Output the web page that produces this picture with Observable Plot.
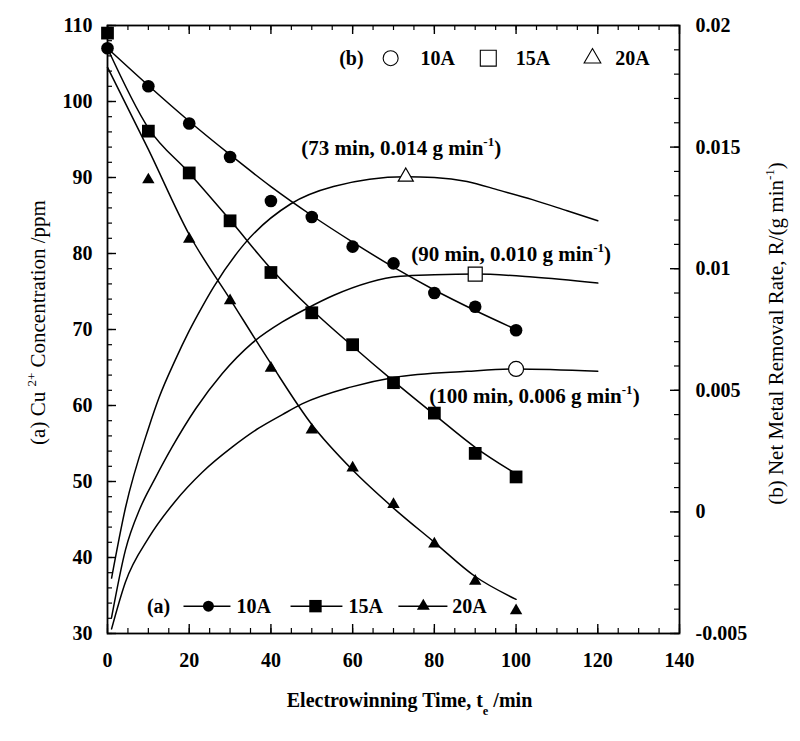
<!DOCTYPE html>
<html>
<head>
<meta charset="utf-8">
<script src="https://cdn.jsdelivr.net/npm/d3@7"></script>
<script src="https://cdn.jsdelivr.net/npm/@observablehq/plot@0.6"></script>
<style>
  html, body { margin: 0; padding: 0; background: #fff; }
  #chart svg { display: block; }
</style>
</head>
<body>
<div id="chart"></div>
<script>
// ---------------- data ----------------
// (a) measured Cu2+ concentration (ppm) vs electrowinning time (min)
const sampleTimes = [0, 10, 20, 30, 40, 50, 60, 70, 80, 90, 100];
const sampleTimes20A = [10, 20, 30, 40, 50, 60, 70, 80, 90, 100];
const conc10A = [107.0, 102.0, 97.1, 92.7, 86.9, 84.8, 80.9, 78.7, 74.8, 73.0, 69.9];
const conc15A = [109.0, 96.1, 90.6, 84.3, 77.5, 72.2, 68.0, 63.0, 59.0, 53.7, 50.6];
const conc20A = [89.7, 81.9, 73.8, 64.9, 56.8, 51.8, 47.0, 41.8, 36.9, 33.0];

// (a) fitted concentration curves (ppm)
const fitTimes = [0, 10, 20, 30, 40, 50, 60, 70, 80, 90, 100];
const fit10A = [107.0, 102.1, 97.4, 93.0, 88.8, 85.0, 81.5, 78.2, 75.2, 72.5, 70.0];
const fit15A = [107.0, 96.5, 90.6, 84.4, 78.0, 72.6, 67.8, 63.2, 58.8, 54.5, 51.0];
const fit20A = [104.5, 93.7, 82.5, 74.0, 65.5, 57.5, 51.5, 46.5, 42.0, 37.5, 34.5];

// (b) net metal removal rate R (g/min) vs time (min)
const rateTimes10A = [1, 4.4, 10.1, 16.6, 23.2, 30.5, 37, 42.8, 47.6, 59.5, 70.1, 88, 100, 120];
const rate10A = [-0.00481, -0.00288, -0.00106, 0.00044, 0.00163, 0.00266, 0.00344, 0.0040, 0.00444, 0.00513, 0.00553, 0.00578, 0.00588, 0.00578];
const rateTimes15A = [1, 4.4, 8, 11.75, 15.8, 21.5, 28.1, 35.4, 42.8, 48.5, 55.4, 71.7, 80, 90, 104, 120];
const rate15A = [-0.00434, -0.00156, 0.00016, 0.00141, 0.00266, 0.00422, 0.00569, 0.00694, 0.00781, 0.00834, 0.00891, 0.00969, 0.00975, 0.00978, 0.00966, 0.00941];
const rateTimes20A = [1, 4.4, 10.1, 12.6, 16.6, 19.9, 23.2, 26, 33.4, 44.8, 55.3, 73, 80, 88, 96, 104, 112.5, 120];
const rate20A = [-0.00272, 0.00017, 0.00347, 0.00469, 0.00625, 0.00741, 0.00844, 0.00925, 0.0110, 0.01266, 0.01338, 0.01378, 0.01375, 0.01359, 0.01322, 0.01284, 0.01238, 0.01197];

// (b) maxima of the removal rate
const peakTimes = [100, 90, 73];
const peakRates = [0.00588, 0.00978, 0.01378];
const peakLabels = ["(100 min, 0.006 g min^{-1})", "(90 min, 0.010 g min^{-1})", "(73 min, 0.014 g min^{-1})"];

// series names and axis tick labels
const seriesNames = ["10A", "15A", "20A"];
const xTickValues = [0, 20, 40, 60, 80, 100, 120, 140];
const yTickValues = [30, 40, 50, 60, 70, 80, 90, 100, 110];
const rateTickValues = [-0.005, 0, 0.005, 0.01, 0.015, 0.02];
const rateTickLabels = ["-0.005", "0", "0.005", "0.01", "0.015", "0.02"];

const xTitle = "Electrowinning Time, t_{e} /min";
const yTitle = "(a) Cu ^{2+} Concentration /ppm";
const rateTitle = "(b) Net Metal Removal Rate, R/(g min^{-1})";

// ---------------- layout ----------------
const W = 800, H = 741;
const mL = 107, mR = 121, mT = 25, mB = 108;
const fw = W - mL - mR, fh = H - mT - mB;
const serif = "'Liberation Serif','Times New Roman',Times,serif";

// right axis (rate) shares the frame with the left axis (ppm): [-0.005, 0.02] <-> [30, 110]
const toL = r => 30 + (r + 0.005) * (80 / 0.025);

const rows = (ts, vs) => ts.map((t, i) => ({t, v: vs[i]}));
const pts = [rows(sampleTimes, conc10A), rows(sampleTimes, conc15A), rows(sampleTimes20A, conc20A)];
const fits = [fit10A, fit15A, fit20A].map(v => rows(fitTimes, v));
const rates = [[rateTimes10A, rate10A], [rateTimes15A, rate15A], [rateTimes20A, rate20A]].map(([t, v]) => rows(t, v));
const peaks = peakTimes.map((t, i) => ({t, v: peakRates[i], label: peakLabels[i]}));

const xMinor = d3.range(0, 141, 5);
const yMinor = d3.range(30, 111, 2);
const rMinor = d3.range(-5, 21, 1).map(d => d / 1000);

const symbols = ["circle", "square", "triangle"];
const filledR = [6.3, 7.2, 4.6];
const openR = [7.5, 7.9, 5.6];
const legendOpenR = [7.5, 9, 6.2];
const legendFilledR = [5.5, 7, 4.8];

// legend / annotation placement (data coordinates)
const annX = [104.5, 98.8, 71.9], annY = [61.25, 79.9, 93.9];
const legB = {y: 105.7, tag: 59.7, sym: [69.3, 93.2, 118.7], txt: [76.6, 99.9, 124.3]};
const legA = {y: 33.6, tag: 12.5, x1: [18.6, 44.8, 71.2], x2: [30.1, 57.5, 83.2], sym: [24.7, 50.9, 77.3], txt: [31.6, 59, 84.4]};

const lineStyle = {stroke: "black", strokeWidth: 1.5, curve: "monotone-x"};
const bold = {fontSize: 20, fontWeight: "bold"};

const marks = [
  // inward ticks
  Plot.ruleX(xMinor, {x: d => d, insetTop: fh - 5, stroke: "black", strokeWidth: 1.2}),
  Plot.ruleX(xMinor, {x: d => d, insetBottom: fh - 5, stroke: "black", strokeWidth: 1.2}),
  Plot.ruleX(xTickValues, {x: d => d, insetTop: fh - 9, stroke: "black", strokeWidth: 1.4}),
  Plot.ruleX(xTickValues, {x: d => d, insetBottom: fh - 9, stroke: "black", strokeWidth: 1.4}),
  Plot.ruleY(yMinor, {y: d => d, insetRight: fw - 5, stroke: "black", strokeWidth: 1.2}),
  Plot.ruleY(yTickValues, {y: d => d, insetRight: fw - 9, stroke: "black", strokeWidth: 1.4}),
  Plot.ruleY(rMinor, {y: d => toL(d), insetLeft: fw - 5, stroke: "black", strokeWidth: 1.2}),
  Plot.ruleY(rateTickValues, {y: d => toL(d), insetLeft: fw - 9, stroke: "black", strokeWidth: 1.4}),
  Plot.frame({stroke: "black", strokeWidth: 1.8}),

  // tick labels
  Plot.text(xTickValues, {x: d => d, frameAnchor: "bottom", dy: 27, textAnchor: "middle", lineAnchor: "middle", text: d => String(d), ...bold}),
  Plot.text(yTickValues, {y: d => d, frameAnchor: "left", dx: -15, textAnchor: "end", lineAnchor: "middle", text: d => String(d), ...bold}),
  Plot.text(rateTickValues, {y: d => toL(d), frameAnchor: "right", dx: 16, textAnchor: "start", lineAnchor: "middle", text: (d, i) => rateTickLabels[i], ...bold}),

  // axis titles
  Plot.text([xTitle], {frameAnchor: "bottom", dx: 16, dy: 67, textAnchor: "middle", lineAnchor: "middle", text: d => d, ...bold}),
  Plot.text([yTitle], {frameAnchor: "left", rotate: -90, dx: -69, dy: -7, textAnchor: "middle", lineAnchor: "middle", text: d => d, fontSize: 21}),
  Plot.text([rateTitle], {frameAnchor: "right", rotate: -90, dx: 97, dy: 4, textAnchor: "middle", lineAnchor: "middle", text: d => d, fontSize: 21}),

  // (b) rate curves
  ...rates.map(r => Plot.line(r, {x: "t", y: d => toL(d.v), ...lineStyle})),
  // (a) fitted curves
  ...fits.map(f => Plot.line(f, {x: "t", y: "v", ...lineStyle})),
  // (a) measured points
  ...pts.map((p, i) => Plot.dot(p, {x: "t", y: "v", symbol: symbols[i], r: filledR[i], fill: "black", stroke: "none"})),
  // (b) maxima
  ...peaks.map((p, i) => Plot.dot([p], {x: "t", y: d => toL(d.v), symbol: symbols[i], r: openR[i], fill: "white", stroke: "black", strokeWidth: 1.2})),
  Plot.text(peaks, {x: (d, i) => annX[i], y: (d, i) => annY[i], text: "label", textAnchor: "middle", lineAnchor: "middle", fontSize: 21, fontWeight: "bold"}),

  // legend (b): open symbols, top
  Plot.text(["(b)"], {x: legB.tag, y: legB.y, text: d => d, textAnchor: "middle", lineAnchor: "middle", ...bold}),
  ...seriesNames.map((s, i) => Plot.dot([s], {x: legB.sym[i], y: legB.y, symbol: symbols[i], r: legendOpenR[i], fill: "white", stroke: "black", strokeWidth: 1.1})),
  Plot.text(seriesNames, {x: (d, i) => legB.txt[i], y: legB.y, text: d => d, textAnchor: "start", lineAnchor: "middle", ...bold}),

  // legend (a): line + filled symbols, bottom
  Plot.text(["(a)"], {x: legA.tag, y: legA.y, text: d => d, textAnchor: "middle", lineAnchor: "middle", ...bold}),
  Plot.link(seriesNames, {x1: (d, i) => legA.x1[i], x2: (d, i) => legA.x2[i], y1: legA.y, y2: legA.y, stroke: "black", strokeWidth: 1.5}),
  ...seriesNames.map((s, i) => Plot.dot([s], {x: legA.sym[i], y: legA.y, symbol: symbols[i], r: legendFilledR[i], fill: "black", stroke: "none"})),
  Plot.text(seriesNames, {x: (d, i) => legA.txt[i], y: legA.y, text: d => d, textAnchor: "start", lineAnchor: "middle", ...bold})
];

const chart = Plot.plot({
  width: W,
  height: H,
  marginLeft: mL,
  marginRight: mR,
  marginTop: mT,
  marginBottom: mB,
  x: {domain: [0, 140], axis: null},
  y: {domain: [30, 110], axis: null},
  style: {fontFamily: serif, color: "black", background: "white", overflow: "visible"},
  marks
});
document.getElementById("chart").appendChild(chart);

// turn ^{..} / _{..} markup into raised / lowered tspans
d3.select(chart).selectAll("text").each(function () {
  const el = this;
  const s = el.textContent;
  if (!/[\^_]\{/.test(s)) return;
  const base = parseFloat(getComputedStyle(el).fontSize) || 20;
  const parts = s.split(/([\^_]\{[^}]*\})/).filter(p => p);
  el.textContent = "";
  let shift = 0;
  for (const p of parts) {
    const m = p.match(/^([\^_])\{([^}]*)\}$/);
    const ts = document.createElementNS("http://www.w3.org/2000/svg", "tspan");
    const target = m ? (m[1] === "^" ? -0.42 * base : 0.38 * base) : 0;
    ts.setAttribute("dy", (target - shift).toFixed(2));
    shift = target;
    if (m) ts.setAttribute("font-size", (0.62 * base).toFixed(1));
    ts.textContent = m ? m[2] : p;
    el.appendChild(ts);
  }
});
</script>
</body>
</html>
